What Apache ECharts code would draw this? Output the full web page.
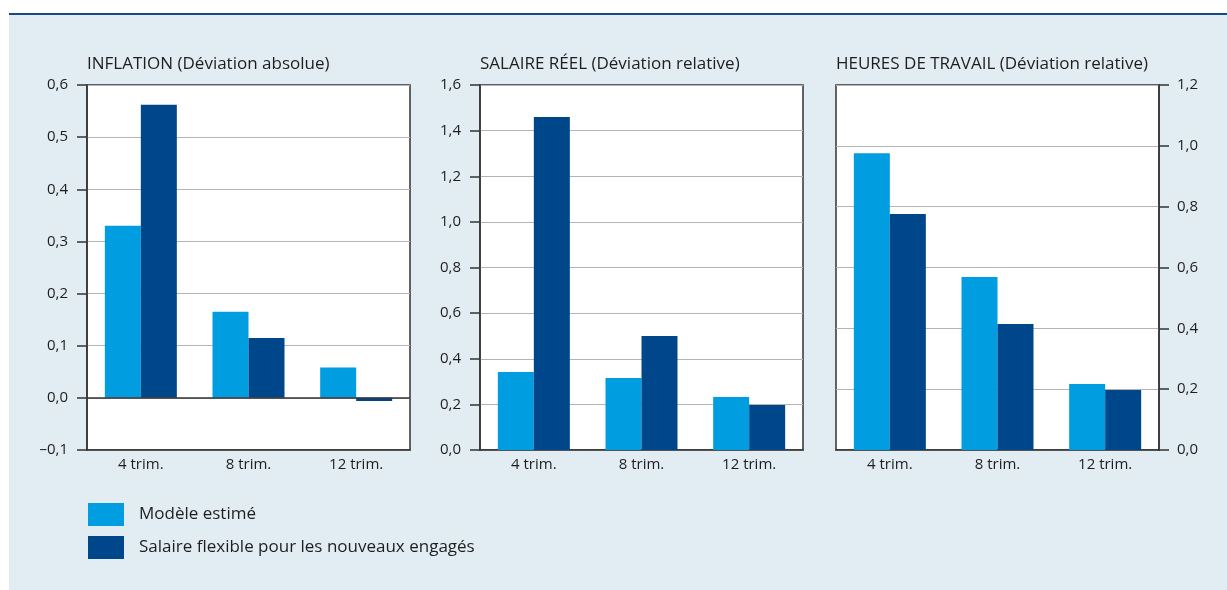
<!DOCTYPE html>
<html>
<head>
<meta charset="utf-8">
<script src="https://cdn.jsdelivr.net/npm/echarts@6/dist/echarts.min.js"></script>
<style>
  html, body { margin: 0; padding: 0; background: #ffffff; }
  #chart { width: 1227px; height: 590px; }
</style>
</head>
<body>
<div id="chart"></div>
<script>
// Horizons after the shock
const categories = ['4 trim.', '8 trim.', '12 trim.'];

// Panel titles
const panelTitles = [
  'INFLATION (Déviation absolue)',
  'SALAIRE RÉEL (Déviation relative)',
  'HEURES DE TRAVAIL (Déviation relative)'
];

// Series names
const seriesNames = ['Modèle estimé', 'Salaire flexible pour les nouveaux engagés'];

// Inflation: absolute deviation
const inflationEstime = [0.33, 0.165, 0.058];
const inflationFlexible = [0.562, 0.115, -0.006];

// Real wage: relative deviation
const salaireEstime = [0.342, 0.316, 0.232];
const salaireFlexible = [1.46, 0.50, 0.197];

// Hours worked: relative deviation
const heuresEstime = [0.976, 0.569, 0.217];
const heuresFlexible = [0.776, 0.414, 0.197];

// Value axis ranges per panel
const axisRanges = [
  { min: -0.1, max: 0.6, interval: 0.1 },
  { min: 0, max: 1.6, interval: 0.2 },
  { min: 0, max: 1.2, interval: 0.2 }
];

const colorEstime = '#009ee0';
const colorFlexible = '#00468b';
const axisColor = '#333333';
const gridColor = '#b4b4b4';
const textColor = '#1e1e1e';
const fontFamily = '"Open Sans", "Noto Sans", sans-serif';

const fmt = v => v.toFixed(1).replace('.', ',').replace('-', '\u2013');

const gridLefts = [87, 480, 836];
const gridWidth = 323;

const chart = echarts.init(document.getElementById('chart'), null, { renderer: 'canvas' });

const grids = gridLefts.map(l => ({
  left: l, top: 85, width: gridWidth, height: 365,
  show: true, backgroundColor: '#ffffff', borderColor: axisColor, borderWidth: 1.5,
  containLabel: false
}));

const xAxes = grids.map((g, i) => ({
  type: 'category', gridIndex: i, data: categories,
  axisLine: { onZero: false, lineStyle: { color: axisColor, width: 1.5 } },
  axisTick: { inside: true, length: 10, lineStyle: { color: axisColor, width: 1.5 } },
  axisLabel: { color: textColor, fontSize: 15, fontFamily, margin: 7 },
  splitLine: { show: false }
}));

const yAxes = axisRanges.map((r, i) => ({
  type: 'value', gridIndex: i, min: r.min, max: r.max, interval: r.interval,
  position: i === 2 ? 'right' : 'left',
  axisLine: { show: true, lineStyle: { color: axisColor, width: 1.5 } },
  axisTick: { show: true, inside: false, length: 10, lineStyle: { color: axisColor, width: 1.5 } },
  axisLabel: { color: textColor, fontSize: 15, fontFamily, margin: i === 2 ? 18 : 19, formatter: fmt },
  splitLine: { show: true, lineStyle: { color: gridColor, width: 1 } }
}));

const panelData = [
  [inflationEstime, inflationFlexible],
  [salaireEstime, salaireFlexible],
  [heuresEstime, heuresFlexible]
];

const series = [];
panelData.forEach((pair, i) => {
  pair.forEach((vals, k) => {
    const s = {
      name: seriesNames[k], type: 'bar', xAxisIndex: i, yAxisIndex: i,
      data: vals, barWidth: 36, barGap: '0%',
      itemStyle: { color: k === 0 ? colorEstime : colorFlexible },
      emphasis: { disabled: true }
    };
    if (i === 0 && k === 1) {
      // zero reference line for the inflation panel
      s.markLine = {
        silent: true, symbol: 'none', label: { show: false },
        lineStyle: { color: axisColor, type: 'solid', width: 1.5 },
        data: [{ yAxis: 0 }]
      };
    }
    series.push(s);
  });
});

const titles = panelTitles.map((t, i) => ({
  text: t, left: gridLefts[i], top: 56, padding: 0,
  textStyle: { color: textColor, fontSize: 17, fontWeight: 'normal', fontFamily }
}));

chart.setOption({
  animation: false,
  backgroundColor: '#ffffff',
  graphic: [
    { type: 'rect', z: -10, shape: { x: 9, y: 15, width: 1218, height: 575 }, style: { fill: '#e2ecf3' } },
    { type: 'rect', z: -9, shape: { x: 9, y: 13, width: 1218, height: 2 }, style: { fill: '#144a8c' } }
  ],
  title: titles,
  legend: {
    data: seriesNames, orient: 'vertical', left: 88, top: 503, padding: 0,
    itemWidth: 36, itemHeight: 23, itemGap: 10, icon: 'rect',
    selectedMode: false,
    textStyle: { color: textColor, fontSize: 17, fontFamily, padding: [0, 0, 0, 10] }
  },
  grid: grids,
  xAxis: xAxes,
  yAxis: yAxes,
  series
});
</script>
</body>
</html>
